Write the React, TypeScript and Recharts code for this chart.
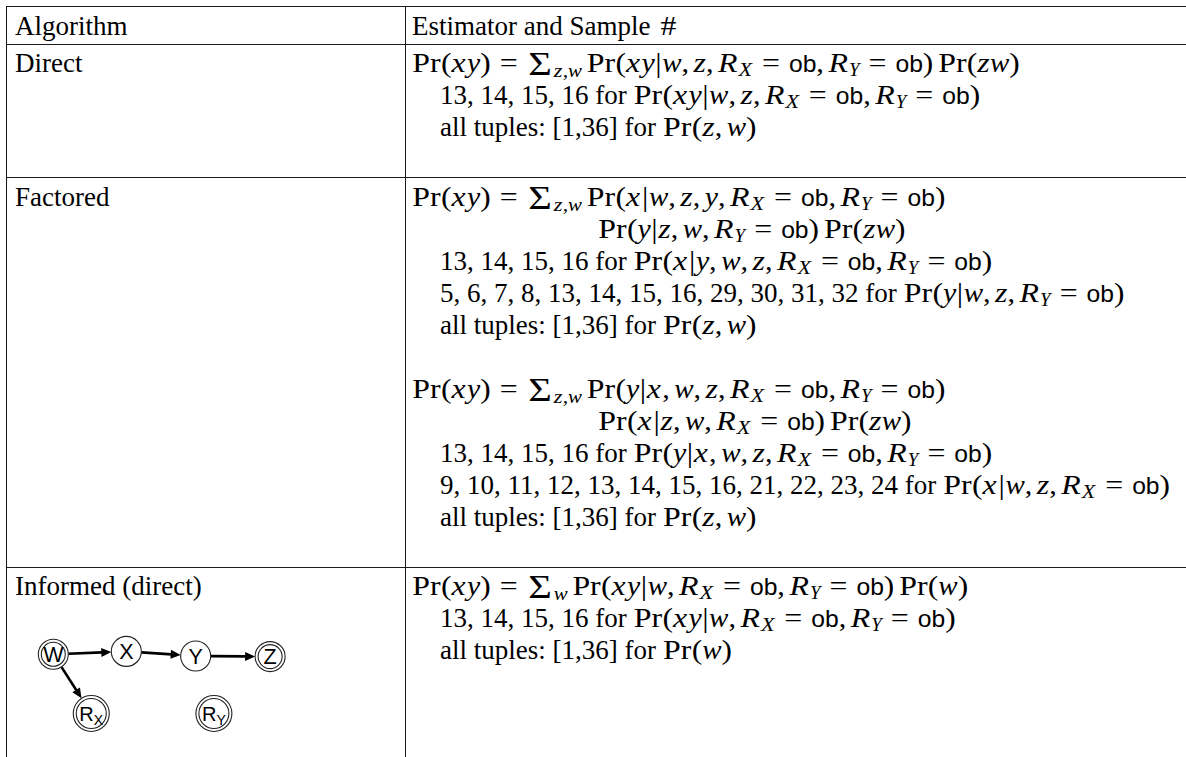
import React from 'react';
import { ScatterChart, Scatter, XAxis, YAxis, ReferenceLine } from 'recharts';

// ---------------- content ----------------
const headers = ['Algorithm', 'Estimator and Sample $\\#$'];
const algorithms = ['Direct', 'Factored', 'Informed (direct)'];

// [indent level, text with $math$]; null = blank line
const directLines: ([number, string] | null)[] = [
  [0, '$\\Pr(xy)=\\sum_{z,w}\\,\\Pr(xy|w,z,R_X=\\ob,R_Y=\\ob)\\,\\Pr(zw)$'],
  [1, '13, 14, 15, 16 for $\\Pr(xy|w,z,R_X=\\ob,R_Y=\\ob)$'],
  [1, 'all tuples: [1,36] for $\\Pr(z,w)$'],
  null,
];
const factoredLines: ([number, string] | null)[] = [
  [0, '$\\Pr(xy)=\\sum_{z,w}\\,\\Pr(x|w,z,y,R_X=\\ob,R_Y=\\ob)$'],
  [2, '$\\Pr(y|z,w,R_Y=\\ob)\\,\\Pr(zw)$'],
  [1, '13, 14, 15, 16 for $\\Pr(x|y,w,z,R_X=\\ob,R_Y=\\ob)$'],
  [1, '5, 6, 7, 8, 13, 14, 15, 16, 29, 30, 31, 32 for $\\Pr(y|w,z,R_Y=\\ob)$'],
  [1, 'all tuples: [1,36] for $\\Pr(z,w)$'],
  null,
  [0, '$\\Pr(xy)=\\sum_{z,w}\\,\\Pr(y|x,w,z,R_X=\\ob,R_Y=\\ob)$'],
  [2, '$\\Pr(x|z,w,R_X=\\ob)\\,\\Pr(zw)$'],
  [1, '13, 14, 15, 16 for $\\Pr(y|x,w,z,R_X=\\ob,R_Y=\\ob)$'],
  [1, '9, 10, 11, 12, 13, 14, 15, 16, 21, 22, 23, 24 for $\\Pr(x|w,z,R_X=\\ob)$'],
  [1, 'all tuples: [1,36] for $\\Pr(z,w)$'],
  null,
];
const informedLines: ([number, string] | null)[] = [
  [0, '$\\Pr(xy)=\\sum_{w}\\,\\Pr(xy|w,R_X=\\ob,R_Y=\\ob)\\,\\Pr(w)$'],
  [1, '13, 14, 15, 16 for $\\Pr(xy|w,R_X=\\ob,R_Y=\\ob)$'],
  [1, 'all tuples: [1,36] for $\\Pr(w)$'],
];

// causal graph of the "Informed" row (layout units)
const graphNodes = [
  { id: 'W', x: 0, y: -0.03 },
  { id: 'X', x: 1, y: -0.08 },
  { id: 'Y', x: 1.95, y: 0 },
  { id: 'Z', x: 2.97, y: 0.01 },
  { id: 'R_X', x: 0.52, y: 1 },
  { id: 'R_Y', x: 2.2, y: 1 },
];
const observedNodes = ['W', 'Z', 'R_X', 'R_Y'];
const graphEdges: [string, string][] = [
  ['W', 'X'],
  ['X', 'Y'],
  ['Y', 'Z'],
  ['W', 'R_X'],
];

// ---------------- layout ----------------
const W = 1186;
const H = 757;
const FS = 27;
const LH = 32;
const PAD = 5.5;
const BASE = 28.5;
const TOP = 6;
const LEFT = 6;
const MID = 405.5;
const COL1_X = 15;
const COL2_X = 412;
const INDENT = [412, 440, 598];
const SERIF = '"Liberation Serif", "Times New Roman", serif';
const SANS = '"Liberation Sans", Arial, sans-serif';

const rowLineCounts = [1, directLines.length, factoredLines.length];
const rowTops: number[] = [TOP];
rowLineCounts.forEach((n) => rowTops.push(rowTops[rowTops.length - 1] + PAD + n * LH));

type TextPt = { x: number; y: number; tex: string };
const textPoints: TextPt[] = [];
textPoints.push({ x: COL1_X, y: rowTops[0] + BASE, tex: headers[0] });
textPoints.push({ x: COL2_X, y: rowTops[0] + BASE, tex: headers[1] });
[directLines, factoredLines, informedLines].forEach((lines, r) => {
  const top = rowTops[r + 1];
  textPoints.push({ x: COL1_X, y: top + BASE, tex: algorithms[r] });
  lines.forEach((ln, i) => {
    if (!ln) return;
    textPoints.push({ x: INDENT[ln[0]], y: top + BASE + i * LH, tex: ln[1] });
  });
});

// graph axis mapping
const GX0 = 53.3;
const GDX = 73;
const GY0 = 656;
const GDY = 57.5;
const gxDomain: [number, number] = [-GX0 / GDX, (W - GX0) / GDX];
const gyDomain: [number, number] = [-GY0 / GDY, (H - GY0) / GDY];

const nodeR = (id: string) => (id.startsWith('R') ? 18 : 15);

// ---------------- math typesetting (Computer-Modern-like advances) ----------------
const CM: Record<string, number> = {
  Pr: 1.073, ob: 1.017, '(': 0.389, ')': 0.389, '|': 0.278, '=': 0.778, ',': 0.278, '#': 0.833,
  x: 0.572, y: 0.49, w: 0.716, z: 0.465, R: 0.759, X: 0.828, Y: 0.581,
};
const TR: Record<string, number> = {
  Pr: 0.889, '(': 0.333, ')': 0.333, '|': 0.2, '=': 0.564, ',': 0.25, '#': 0.5,
};
const TI: Record<string, number> = { x: 0.444, y: 0.444, w: 0.667, z: 0.389, R: 0.611, X: 0.611, Y: 0.556, ',': 0.25 };
const TS: Record<string, number> = { ob: 1.112 };

type Seg = { k: string; t?: string; w?: number; have?: number; want?: number };

const SCALE: Record<string, number> = { sf: 0.9, sub: 0.7, sumsub: 0.7, sum: 1.25 };
const MAX_STRETCH = 1.18;

function mathSegs(s: string): Seg[] {
  const out: Seg[] = [];
  let i = 0;
  let lastSum = false;
  const glyph = (k: string, c: string, scale = 1) => {
    const table = k === 'rm' ? TR : k === 'sf' ? TS : TI;
    const fsScale = SCALE[k] ?? 1;
    const want = (CM[c] ?? table[c] ?? 0.5) * scale;
    const have = (table[c] ?? 0.5) * fsScale;
    out.push({ k, t: c, want, have });
  };
  while (i < s.length) {
    if (s.startsWith('\\Pr', i)) { glyph('rm', 'Pr'); i += 3; lastSum = false; continue; }
    if (s.startsWith('\\ob', i)) { glyph('sf', 'ob'); i += 3; lastSum = false; continue; }
    if (s.startsWith('\\sum', i)) { out.push({ k: 'sum', t: 'Σ', want: 1.0, have: 0.592 * SCALE.sum }); i += 4; lastSum = true; continue; }
    if (s.startsWith('\\#', i)) { glyph('rm', '#'); i += 2; continue; }
    if (s.startsWith('\\,', i)) { out.push({ k: 'sp', w: 0.167 }); i += 2; continue; }
    const c = s[i];
    if (c === '_') {
      let sub = '';
      if (s[i + 1] === '{') { const j = s.indexOf('}', i); sub = s.slice(i + 2, j); i = j + 1; }
      else { sub = s[i + 1]; i += 2; }
      const k = lastSum ? 'sumsub' : 'sub';
      for (const ch of sub) glyph(k, ch, lastSum ? 0.72 : 0.64);
      lastSum = false;
      continue;
    }
    lastSum = false;
    if (c === '=') { out.push({ k: 'sp', w: 0.278 }); glyph('rm', '='); out.push({ k: 'sp', w: 0.278 }); i++; continue; }
    if (c === ',') { glyph('rm', ','); out.push({ k: 'sp', w: 0.167 }); i++; continue; }
    if (/[A-Za-z]/.test(c)) { glyph('it', c); i++; continue; }
    glyph('rm', c);
    i++;
  }
  return out;
}

function parseLine(tex: string): Seg[] {
  const parts = tex.split('$');
  const out: Seg[] = [];
  parts.forEach((p, idx) => {
    if (!p) return;
    if (idx % 2 === 1) out.push(...mathSegs(p));
    else out.push({ k: 'txt', t: p });
  });
  return out;
}

function RichText({ x, y, tex, size }: { x: number; y: number; tex: string; size: number }) {
  const segs = parseLine(tex);
  let base = 0;
  let pendingDx = 0;
  const spans: React.ReactNode[] = [];
  segs.forEach((s, i) => {
    if (s.k === 'sp') { pendingDx += (s.w || 0) * size; return; }
    let off = 0;
    const fs = size * (SCALE[s.k] ?? 1);
    let family = SERIF;
    let style = 'normal';
    if (s.k === 'it') style = 'italic';
    if (s.k === 'sf') family = SANS;
    if (s.k === 'sub') { style = 'italic'; off = size * 0.15; }
    if (s.k === 'sumsub') { style = 'italic'; off = size * 0.2; }
    if (s.k === 'sum') off = size * 0.12;
    let len: number | undefined;
    let rest = 0;
    if (s.want !== undefined && s.have !== undefined) {
      const stretch = Math.max(1, Math.min(s.want / s.have, MAX_STRETCH));
      len = s.have * stretch * size;
      rest = Math.max(0, (s.want - s.have * stretch) * size);
    }
    const pre = s.k === 'it' || s.k === 'sub' || s.k === 'sumsub' ? 0 : rest / 2;
    pendingDx += pre;
    const dy = off - base;
    base = off;
    spans.push(
      <tspan
        key={i}
        dx={pendingDx ? pendingDx : undefined}
        dy={dy ? dy : undefined}
        fontFamily={family}
        fontStyle={style}
        fontSize={fs}
        textLength={len && len > (s.have || 0) * size + 0.3 ? len : undefined}
        lengthAdjust={len ? 'spacingAndGlyphs' : undefined}
      >
        {s.t}
      </tspan>
    );
    pendingDx = rest - pre;
  });
  return (
    <text x={x} y={y} fill="#000" style={{ whiteSpace: 'pre' }} fontFamily={SERIF} fontSize={size}>
      {spans}
    </text>
  );
}

const textShape = (p: any) => <RichText x={p.cx} y={p.cy} tex={p.payload.tex} size={FS} />;

const nodeShape = (p: any) => {
  const id: string = p.payload.id;
  const r = nodeR(id);
  const dbl = observedNodes.includes(id);
  const isR = id.startsWith('R');
  return (
    <g>
      <circle cx={p.cx} cy={p.cy} r={r} fill="#fff" stroke="#222" strokeWidth={1.1} />
      {dbl && <circle cx={p.cx} cy={p.cy} r={r - 3} fill="none" stroke="#222" strokeWidth={1.1} />}
      {isR ? (
        <text x={p.cx} y={p.cy + 7} textAnchor="middle" fontFamily={SANS} fontSize={20} fill="#000">
          R<tspan fontSize={14} dy={4}>{id.slice(2)}</tspan>
        </text>
      ) : (
        <text x={p.cx} y={p.cy + 7.5} textAnchor="middle" fontFamily={SANS} fontSize={21.5} fill="#000">
          {id}
        </text>
      )}
    </g>
  );
};

const arrowShape = (r1: number, r2: number) => (p: any) => {
  const { x1, y1, x2, y2 } = p;
  const dx = x2 - x1;
  const dy = y2 - y1;
  const L = Math.hypot(dx, dy) || 1;
  const ux = dx / L;
  const uy = dy / L;
  const sx = x1 + ux * r1;
  const sy = y1 + uy * r1;
  const ex = x2 - ux * r2;
  const ey = y2 - uy * r2;
  const hl = 10;
  const hw = 4.5;
  const bx = ex - ux * hl;
  const by = ey - uy * hl;
  return (
    <g>
      <line x1={sx} y1={sy} x2={bx + ux} y2={by + uy} stroke="#000" strokeWidth={2.6} />
      <polygon
        points={`${ex},${ey} ${bx - uy * hw},${by + ux * hw} ${bx + uy * hw},${by - ux * hw}`}
        fill="#000"
      />
    </g>
  );
};

const hLines = rowTops.map((y) => Math.round(y) + 0.5);
const vLines = [LEFT + 0.5, MID];

export default function App() {
  const nodeById = (id: string) => graphNodes.find((n) => n.id === id)!;
  return (
    <div style={{ position: 'absolute', left: 0, top: 0, width: W, height: H, background: '#fff' }}>
      <ScatterChart width={W} height={H} margin={{ top: 0, right: 0, bottom: 0, left: 0 }}>
        <XAxis xAxisId="px" type="number" dataKey="x" domain={[0, W]} allowDataOverflow hide />
        <YAxis yAxisId="px" type="number" dataKey="y" domain={[0, H]} allowDataOverflow reversed hide />
        <XAxis xAxisId="g" type="number" dataKey="x" domain={gxDomain} allowDataOverflow hide />
        <YAxis yAxisId="g" type="number" dataKey="y" domain={gyDomain} allowDataOverflow reversed hide />

        {hLines.map((y, i) => (
          <ReferenceLine
            key={'h' + i}
            xAxisId="px"
            yAxisId="px"
            segment={[{ x: LEFT, y }, { x: W, y }]}
            stroke="#1a1a1a"
            strokeWidth={1}
          />
        ))}
        {vLines.map((x, i) => (
          <ReferenceLine
            key={'v' + i}
            xAxisId="px"
            yAxisId="px"
            segment={[{ x, y: TOP }, { x, y: H }]}
            stroke="#1a1a1a"
            strokeWidth={1}
          />
        ))}

        {graphEdges.map(([a, b], i) => {
          const na = nodeById(a);
          const nb = nodeById(b);
          return (
            <ReferenceLine
              key={'e' + i}
              xAxisId="g"
              yAxisId="g"
              segment={[{ x: na.x, y: na.y }, { x: nb.x, y: nb.y }]}
              shape={arrowShape(nodeR(a), nodeR(b))}
            />
          );
        })}

        <Scatter xAxisId="g" yAxisId="g" data={graphNodes} shape={nodeShape} isAnimationActive={false} />
        <Scatter xAxisId="px" yAxisId="px" data={textPoints} shape={textShape} isAnimationActive={false} />
      </ScatterChart>
    </div>
  );
}
